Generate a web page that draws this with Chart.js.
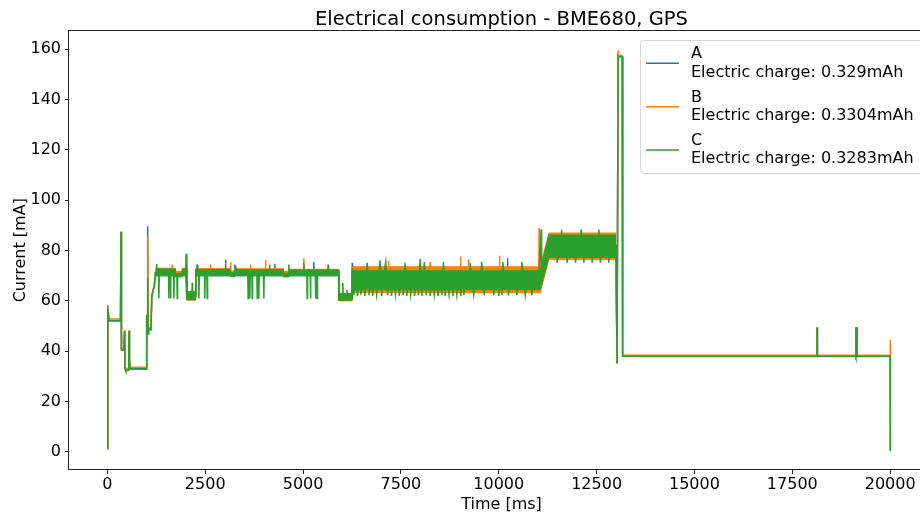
<!DOCTYPE html>
<html>
<head>
<meta charset="utf-8">
<script src="https://cdn.jsdelivr.net/npm/chart.js@4/dist/chart.umd.min.js"></script>
<style>
  html, body { margin: 0; padding: 0; background: #fff; overflow: hidden; width: 920px; height: 515px; }
  #chart { display: block; }
</style>
</head>
<body>
<canvas id="chart" width="935" height="515"></canvas>
<script>
// values: [time ms, current mA]
const seriesNames = ['A', 'B', 'C'];
const chargeLabels = ['Electric charge: 0.329mAh', 'Electric charge: 0.3304mAh', 'Electric charge: 0.3283mAh'];
const xTicks = [0, 2500, 5000, 7500, 10000, 12500, 15000, 17500, 20000];
const yTicks = [0, 20, 40, 60, 80, 100, 120, 140, 160];

// dense noisy parts: lower / upper edge of the band at these times
const bandTime = [1231, 1740, 1740, 1915, 1915, 2030, 2030, 2255, 2255, 3145, 3145, 3260, 3260, 4500, 4500, 4640, 4640, 5910, 5910, 6255, 6255, 11060, 11280, 12995];
const bandLowA = [70, 70, 69.6, 69.6, 70, 70, 60.5, 60.5, 70, 70, 69.8, 69.8, 70, 70, 69.6, 69.6, 70, 70, 60.3, 60.3, 64.5, 64.5, 77.3, 77.3];
const bandHighA = [72.6, 72.6, 70.9, 70.9, 72.6, 72.6, 63.5, 63.5, 72.4, 72.4, 71.2, 71.2, 72.4, 72.4, 71, 71, 72.2, 72.2, 62.8, 62.8, 72, 72, 86, 86];
const bandLowB = [70.2, 70.2, 70, 70, 70.2, 70.2, 60.3, 60.3, 70.2, 70.2, 70, 70, 70.2, 70.2, 70, 70, 70.2, 70.2, 60, 60, 63.3, 63.3, 76.5, 76.5];
const bandHighB = [73, 73, 71.8, 71.8, 73, 73, 63.8, 63.8, 72.9, 72.9, 71.9, 71.9, 72.8, 72.8, 71.8, 71.8, 72.6, 72.6, 63, 63, 73.6, 73.6, 87, 87];
const bandLowC = [70, 70, 69.6, 69.6, 70, 70, 60.5, 60.5, 70, 70, 69.8, 69.8, 70, 70, 69.6, 69.6, 70, 70, 60.3, 60.3, 64.5, 64.5, 77.3, 77.3];
const bandHighC = [72.7, 72.7, 70.9, 70.9, 72.7, 72.7, 63.6, 63.6, 72.5, 72.5, 71.2, 71.2, 72.4, 72.4, 71, 71, 72.3, 72.3, 62.8, 62.8, 72, 72, 86.2, 86.2];

const traceA = [
  [0, 1.2], [12, 58.3], [40, 52.2], [335, 52.2], [350, 87.5], [360, 40.6], [415, 40.6], [440, 48], [452, 33], [470, 32.4],
  [545, 32.6], [555, 48], [565, 36.5], [580, 33], [990, 33], [1000, 54], [1005, 42], [1015, 52], [1030, 89.7], [1042, 47],
  [1055, 49], [1115, 48.5], [1135, 62], [1170, 64], [1200, 66], [1231, 71.3], [2005, 71.3], [2030, 62], [2250, 62], [2260, 71.3],
  [2286, 71.3], [2296, 74.6], [2306, 71.3], [3248, 71.3], [3258, 74.5], [3268, 71.3], [4269, 71.3], [4279, 74.8], [4289, 71.3],
  [5265, 71.3], [5275, 75.5], [5285, 71.3], [5910, 71.3], [5915, 61.3], [6250, 61.3], [6256, 75.2], [6265, 68],
  [10212, 68], [10222, 77], [10232, 68], [11020, 68], [11075, 86], [11090, 72], [11280, 81.5], [12990, 81.5], [12995, 80],
  [13000, 68.5], [13023, 35], [13049, 157.3], [13155, 157], [13165, 38], [18125, 38], [18133, 49.3], [18141, 38],
  [19117, 38], [19122, 49], [19127, 37.5], [19150, 38], [19155, 49.3], [19160, 38], [20000, 38], [20005, 0.5]
];

const traceB = [
  [0, 1.2], [12, 57.5], [40, 52.8], [335, 52.8], [350, 87], [360, 41], [415, 41], [447, 48.5], [455, 33.5], [470, 33],
  [545, 33.3], [555, 48.5], [565, 37], [580, 33.6], [990, 33.6], [1000, 54.5], [1012, 50], [1025, 54], [1035, 85.7], [1045, 48],
  [1055, 49.5], [1115, 49], [1135, 62.5], [1170, 64.5], [1200, 66.5], [1231, 71.6], [1647, 71.6], [1657, 74.5], [1667, 71.6],
  [1745, 70.9], [1910, 70.9], [1920, 71.6], [2005, 71.6], [2015, 78], [2025, 71.6], [2030, 62], [2250, 62], [2260, 71.6],
  [2627, 71.6], [2637, 74.5], [2647, 71.6], [3137, 71.6], [3147, 75.5], [3157, 71], [3255, 71], [3265, 71.6],
  [3648, 71.6], [3658, 74.5], [3668, 71.6], [4031, 71.6], [4041, 76.4], [4051, 71.6], [4505, 70.9], [4635, 70.9], [4645, 71.6],
  [5010, 71.6], [5020, 77], [5030, 71.6], [5910, 71.6], [5915, 61.5], [6250, 61.5], [6258, 68.4],
  [7171, 68.4], [7181, 76], [7191, 68.4], [8235, 68.4], [8245, 75.5], [8255, 68.4], [9012, 68.4], [9022, 77.7], [9032, 68.4],
  [9216, 68.4], [9226, 76.7], [9236, 68.4], [10008, 68.4], [10018, 78], [10028, 68.4], [11020, 68.4], [11030, 89], [11042, 72],
  [11280, 81.8], [12990, 81.8], [12995, 82.4], [13000, 68.5], [13023, 35.5], [13049, 159.5], [13060, 157.5], [13155, 157.5],
  [13165, 38.4], [18125, 38.4], [18133, 49], [18141, 38.4], [19117, 38.4], [19122, 49.5], [19127, 38.4], [19150, 38.4],
  [19155, 49.5], [19160, 38.4], [20000, 38.4], [20004, 44.6]
];

const traceC = [
  [0, 1.5], [12, 57], [40, 52], [335, 52], [350, 87.5], [360, 40.5], [415, 40.5], [440, 48], [452, 33], [470, 32.2],
  [545, 32.5], [555, 48], [565, 36.5], [580, 33], [990, 32.8], [1000, 54.5], [1012, 50], [1022, 53], [1032, 69], [1042, 47],
  [1055, 49], [1115, 48.5], [1135, 62], [1170, 64], [1200, 66], [1231, 71.3],
  [1250, 71.3], [1260, 74.8], [1270, 71.3], [1306, 71.3], [1316, 61], [1326, 71.3], [1562, 71.3], [1572, 61], [1582, 71.3],
  [1604, 71.3], [1614, 61], [1624, 71.3], [1690, 71.3], [1700, 61], [1710, 71.3], [1745, 70.3], [1775, 70.3], [1785, 61],
  [1795, 70.3], [1910, 70.3], [1920, 71.3], [2005, 71.3], [2015, 78.8], [2025, 71.3], [2030, 62], [2158, 62], [2168, 67.2],
  [2178, 62], [2250, 62], [2260, 71.3], [2286, 71.3], [2296, 73.8], [2306, 71.3], [2329, 71.3], [2339, 61], [2349, 71.3],
  [2480, 71.3], [2490, 61], [2500, 71.3], [2541, 71.3], [2551, 61], [2561, 71.3], [3009, 71.3], [3019, 76.5], [3029, 71.3],
  [3150, 70.6], [3255, 70.6], [3270, 71.3], [3280, 74], [3290, 71.3], [3587, 71.3], [3597, 61], [3607, 71.3],
  [3630, 71.3], [3640, 61], [3650, 71.3], [3690, 71.3], [3700, 61], [3710, 71.3], [3819, 71.3], [3829, 61], [3839, 71.3],
  [3860, 71.3], [3870, 61], [3880, 71.3], [3988, 71.3], [3998, 61], [4008, 71.3], [4133, 71.3], [4143, 74.5], [4153, 71.3],
  [4505, 70.3], [4628, 70.3], [4636, 74.5], [4646, 71.3], [5010, 71.3], [5020, 75], [5030, 71.3], [5095, 71.3], [5105, 61],
  [5115, 71.3], [5180, 71.3], [5190, 61], [5200, 71.3], [5310, 71.3], [5320, 61], [5330, 71.3], [5350, 71.3], [5360, 61],
  [5370, 71.3], [5631, 71.3], [5641, 74.5], [5651, 71.3], [5910, 71.3], [5915, 61.5], [6006, 61.5], [6016, 67.2], [6026, 61.5],
  [6110, 61.5], [6120, 64.5], [6130, 61.5], [6250, 61.5],
  [6258, 73], [6300, 62.3], [6345, 70], [6390, 62], [6435, 70], [6480, 62.5], [6530, 70], [6580, 62], [6638, 75.2], [6685, 62.3],
  [6730, 70], [6780, 62], [6830, 70], [6880, 62.5], [6930, 70], [6968, 76.1], [7010, 62], [7060, 70], [7113, 75.5], [7160, 62.3],
  [7210, 70], [7260, 62], [7310, 70], [7360, 62.5], [7410, 70], [7460, 62], [7510, 70], [7560, 62.3], [7607, 75.2], [7650, 62],
  [7700, 70], [7750, 62.5], [7800, 70], [7850, 62], [7900, 70], [7950, 62.3], [7990, 76.7], [8040, 62], [8100, 75.5], [8150, 62.3],
  [8200, 70], [8250, 62], [8300, 70], [8350, 62.5], [8400, 70], [8450, 62], [8500, 70], [8550, 62.3], [8586, 75.5], [8630, 62],
  [8680, 70], [8730, 62.5], [8780, 70], [8830, 62], [8880, 70], [8930, 62.3], [8980, 70], [9030, 62], [9080, 70], [9110, 62.3],
  [9150, 70], [9260, 70], [9269, 75], [9300, 70], [9362, 62.3], [9420, 70], [9552, 70], [9560, 75.5], [9600, 70], [9630, 62.3],
  [9680, 70], [9862, 70], [9872, 62.3], [9920, 70], [9990, 70], [10000, 62], [10040, 70], [10080, 62.3], [10103, 75.5],
  [10130, 70], [10240, 70], [10250, 62.3], [10300, 70], [10450, 70], [10460, 62.3], [10520, 70], [10580, 70], [10588, 75.5],
  [10620, 70], [10675, 62.3], [10730, 70], [10835, 70], [10845, 62.3], [10900, 70], [11020, 70], [11030, 72], [11083, 88.4],
  [11095, 72], [11280, 81.5], [11480, 81.5], [11491, 75.2], [11540, 82], [11595, 82], [11602, 88.4], [11610, 82], [11736, 82],
  [11746, 75.2], [11800, 82], [11949, 82], [11959, 75.2], [12010, 82], [12096, 82], [12104, 88.4], [12112, 82], [12162, 82],
  [12172, 75.2], [12220, 82], [12375, 82], [12385, 75.2], [12430, 82], [12552, 82], [12560, 88.4], [12568, 82], [12598, 75.2],
  [12640, 82], [12800, 82], [12810, 75.2], [12860, 82], [12990, 82], [12995, 80.4], [13000, 68.5], [13023, 35.3],
  [13049, 157.3], [13060, 157], [13155, 157], [13165, 38], [18125, 38], [18133, 49.5], [18141, 38], [19117, 38],
  [19122, 49.5], [19127, 38], [19150, 38], [19155, 49.5], [19160, 38], [20000, 38], [20005, 0.5]
];

const colors = ['#1f77b4', '#ff7f0e', '#2ca02c'];
const FONT = "'DejaVu Sans'";

function toPoints(pairs) {
    return pairs.map(p => ({ x: p[0], y: p[1] }));
}

function bandPoints(values) {
    return bandTime.map((t, i) => ({ x: t, y: values[i] }));
}

// three datasets per series: band lower edge, band upper edge (filled down to lower), trace
function seriesDatasets(idx, low, high, trace) {
    const base = idx * 3;
    const order = 30 - idx * 10;
    const common = { borderColor: colors[idx], pointRadius: 0, tension: 0 };
    return [
        Object.assign({ data: bandPoints(low), borderWidth: 1, fill: false, order: order + 2 }, common),
        Object.assign({ data: bandPoints(high), borderWidth: 1, fill: { target: base }, backgroundColor: colors[idx], order: order + 1 }, common),
        Object.assign({ label: seriesNames[idx], data: toPoints(trace), borderWidth: 1.5, fill: false, order: order }, common)
    ];
}

const frameAndLegend = {
    id: 'frameAndLegend',
    afterDraw(chart) {
        const ctx = chart.ctx;
        const a = chart.chartArea;
        ctx.save();
        // axes frame
        ctx.strokeStyle = '#222';
        ctx.lineWidth = 1;
        ctx.strokeRect(Math.round(a.left) - 0.5, Math.round(a.top) + 0.5, Math.round(a.right - a.left), Math.round(a.bottom - a.top) - 1);

        // legend
        ctx.beginPath();
        ctx.roundRect(640.5, 40.5, 290, 133, 4);
        ctx.fillStyle = 'rgba(255,255,255,0.8)';
        ctx.fill();
        ctx.strokeStyle = 'rgba(204,204,204,0.8)';
        ctx.stroke();

        ctx.font = '16px ' + FONT;
        ctx.textBaseline = 'middle';
        ctx.textAlign = 'left';
        seriesNames.forEach((name, i) => {
            const y0 = 40 + i * 43.4;
            ctx.strokeStyle = colors[i];
            ctx.lineWidth = 1.5;
            ctx.beginPath();
            ctx.moveTo(646, y0 + 23.3);
            ctx.lineTo(679, y0 + 23.3);
            ctx.stroke();
            ctx.fillStyle = '#000';
            ctx.fillText(name, 691, y0 + 14);
            ctx.fillText(chargeLabels[i], 691, y0 + 32.5);
        });
        ctx.restore();
    }
};

const chart = new Chart(document.getElementById('chart'), {
    type: 'line',
    data: {
        datasets: [].concat(
            seriesDatasets(0, bandLowA, bandHighA, traceA),
            seriesDatasets(1, bandLowB, bandHighB, traceB),
            seriesDatasets(2, bandLowC, bandHighC, traceC)
        )
    },
    options: {
        responsive: false,
        animation: false,
        events: [],
        layout: { padding: { right: 1 } },
        plugins: {
            legend: { display: false },
            tooltip: { enabled: false },
            title: {
                display: true,
                fullSize: false,
                text: 'Electrical consumption - BME680, GPS',
                color: '#000',
                font: { family: FONT, size: 19.5, weight: 'normal', lineHeight: 1.1 },
                padding: { top: 9, bottom: 0 }
            }
        },
        scales: {
            x: {
                type: 'linear',
                min: -980,
                max: 21120,
                afterBuildTicks: s => { s.ticks = xTicks.map(v => ({ value: v })); },
                afterFit: s => { s.height = 45; },
                ticks: {
                    callback: v => String(v),
                    color: '#000',
                    font: { family: FONT, size: 16 },
                    padding: 1,
                    maxRotation: 0,
                    autoSkip: false
                },
                grid: { drawOnChartArea: false, tickLength: 4, color: '#222' },
                border: { display: false },
                title: {
                    display: true,
                    text: 'Time [ms]',
                    color: '#000',
                    font: { family: FONT, size: 16 },
                    padding: { top: 0, bottom: 1 }
                }
            },
            y: {
                type: 'linear',
                min: -7.2,
                max: 167.5,
                afterBuildTicks: s => { s.ticks = yTicks.map(v => ({ value: v })); },
                afterFit: s => { s.width = 69; },
                ticks: {
                    color: '#000',
                    font: { family: FONT, size: 16 },
                    padding: 4
                },
                grid: { drawOnChartArea: false, tickLength: 4, color: '#222' },
                border: { display: false },
                title: {
                    display: true,
                    text: 'Current [mA]',
                    color: '#000',
                    font: { family: FONT, size: 16 },
                    padding: { top: 11, bottom: 0 }
                }
            }
        }
    },
    plugins: [frameAndLegend]
});
</script>
</body>
</html>
